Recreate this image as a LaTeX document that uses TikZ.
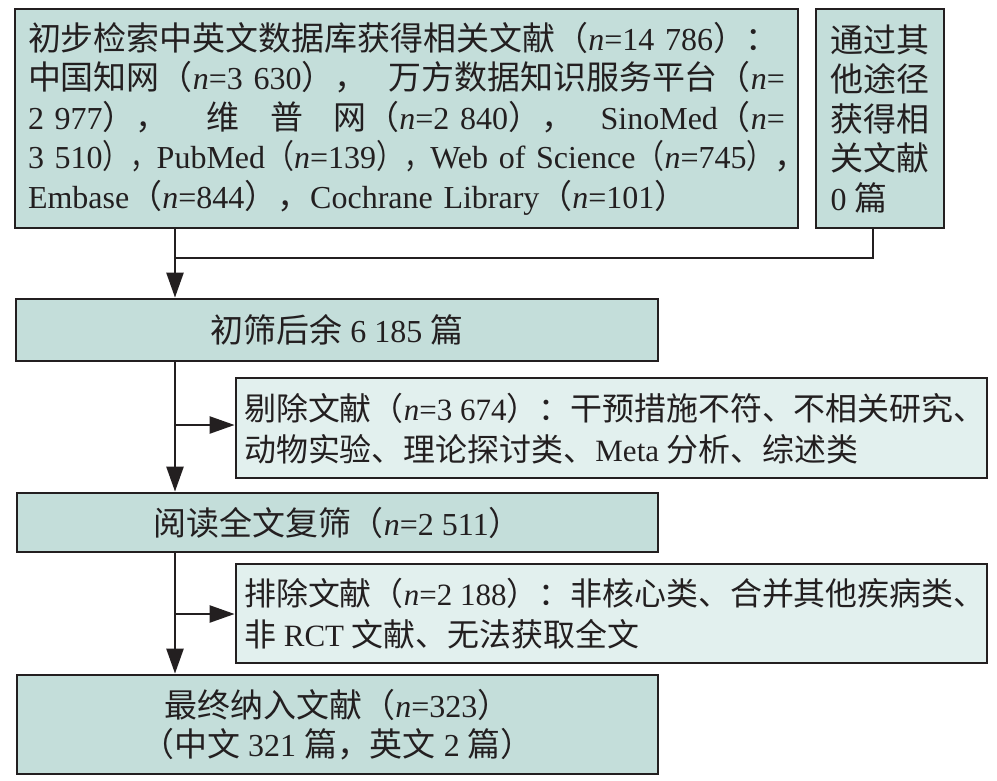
\documentclass[tikz,border=0pt]{standalone}
\usepackage{graphicx}
\usepackage{fontspec}
\setmainfont{Liberation Serif}
\newfontfamily\cjk[Scale=1.03]{Noto Sans CJK SC}
\usetikzlibrary{arrows.meta}
\newcommand\zh[1]{{\cjk #1}}
\newcommand\nn{\textit{n}}
\newcommand\fl{\hskip 0pt plus 1fil minus 1fil\relax}
\newcommand\gw[1]{\hskip 0pt plus #1fil\relax}
\newcommand\fullline[2][757pt]{\leavevmode\hbox to #1{#2}}
% narrowed full-width punctuation for the tight line
\newcommand\rp{\scalebox{0.85}[1]{\zh{）}}}
\newcommand\cm{\scalebox{0.79}[1]{\zh{，}}}
\newcommand\lp{\scalebox{0.88}[1]{\zh{（}}}
\definecolor{boxfill}{RGB}{196,222,218}
\definecolor{lightfill}{RGB}{226,240,238}
\definecolor{ink}{RGB}{35,31,32}
\begin{document}
\begin{tikzpicture}[x=1pt,y=-1pt,
  box/.style={draw=ink,line width=2.8pt,fill=boxfill,inner sep=0pt,text=ink,
    font=\fontsize{32}{39.5}\selectfont},
  lightbox/.style={box,fill=lightfill},
  inner/.style={inner sep=0pt,text=ink,align=left,font=\fontsize{31}{41}\selectfont},
  conn/.style={draw=ink,line width=2.4pt},
  arr/.style={conn,-{Triangle[width=17pt,length=25pt]}}]
\useasboundingbox (0,0) rectangle (997,780);
\fill[white] (0,0) rectangle (997,780);

\node[box,minimum width=783pt,minimum height=219pt,text width=757pt,align=left] (b1) at (406.5,118.5) {%
\zh{初步检索中英文数据库获得相关文献（}\nn=14 786\zh{）：}\\
\fullline{\zh{中国知网（}\nn=3 630\zh{），}\fl\zh{万方数据知识服务平台（}\nn=}\\
\fullline{2 977\zh{），}\gw{1}\zh{维}\gw{0.8}\zh{普}\gw{0.8}\zh{网（}\nn=2 840\zh{），}\gw{0.7}SinoMed\zh{（}\nn=}\\
\fullline[770pt]{3 510\rp\cm PubMed\lp\nn=139\rp\cm Web of Science\lp\nn=745\rp\zh{，}\hss}\\
Embase\zh{（}\nn=844\zh{），}Cochrane Library\zh{（}\nn=101\zh{）}};

\node[box,minimum width=128pt,minimum height=219pt,align=left] (b2) at (880,118.5) {%
\zh{通过其}\\\zh{他途径}\\\zh{获得相}\\\zh{关文献}\\0 \zh{篇}};

\node[box,minimum width=642pt,minimum height=62pt] (b3) at (337,330) {\zh{初筛后余} 6 185 \zh{篇}};

\node[lightbox,minimum width=751pt,minimum height=100pt] (b4) at (611.5,428) {};
\node[inner,anchor=west] (b4t) at (244,429) {%
\zh{剔除文献（}\nn=3 674\zh{）：干预措施不符、不相关研究、}\\
\zh{动物实验、理论探讨类、}Meta \zh{分析、综述类}};

\node[box,minimum width=641pt,minimum height=59pt] (b5) at (337.5,522.5) {\zh{阅读全文复筛（}\nn=2 511\zh{）}};

\node[lightbox,minimum width=751pt,minimum height=99pt] (b6) at (611.5,613.5) {};
\node[inner,anchor=west] (b6t) at (244,614) {%
\zh{排除文献（}\nn=2 188\zh{）：非核心类、合并其他疾病类、}\\
\zh{非} RCT \zh{文献、无法获取全文}};

\node[box,minimum width=641pt,minimum height=99pt,align=center] (b7) at (337.5,724.5) {%
\zh{最终纳入文献（}\nn=323\zh{）}\\\zh{（中文} 321 \zh{篇，英文} 2 \zh{篇）}};

\coordinate (t) at (175,0);
\coordinate (j1) at (175,258);
\coordinate (r2) at (873,258);
\coordinate (s1) at (175,425);
\coordinate (s2) at (175,614);

\draw[arr] (b1.south -| t) -- (b3.north -| t);
\draw[conn] (b2.south -| r2) -- (r2) -- (j1);
\draw[arr] (b3.south -| t) -- (b5.north -| t);
\draw[arr] (s1) -- (b4.west |- s1);
\draw[arr] (b5.south -| t) -- (b7.north -| t);
\draw[arr] (s2) -- (b6.west |- s2);
\end{tikzpicture}
\end{document}
